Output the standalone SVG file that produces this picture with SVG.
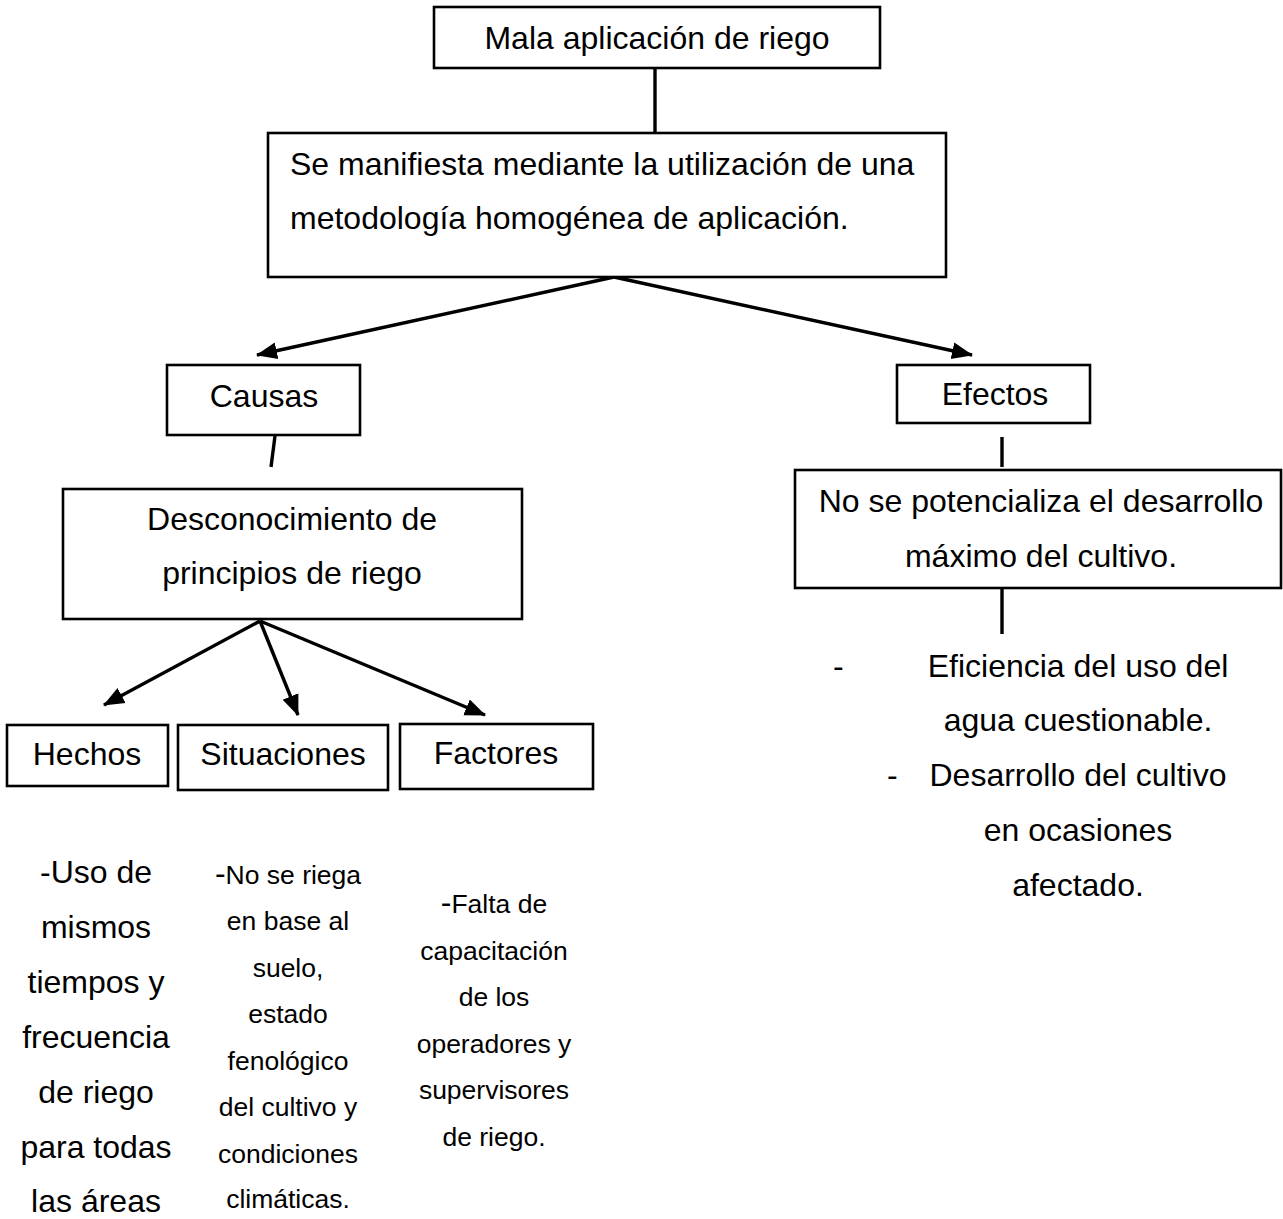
<svg xmlns="http://www.w3.org/2000/svg" width="1283" height="1219" viewBox="0 0 1283 1219">
  <style>
    .box { fill: #ffffff; stroke: #000000; stroke-width: 2.6; }
    .txt { font-family: "Liberation Sans", Arial, sans-serif; font-size: 32px; fill: #000000; }
    .mid { text-anchor: middle; }
    .small { font-size: 26.5px; }
    .dash { font-size: 32px; }
    .wire { fill: none; stroke: #000000; stroke-width: 3.4; }
    .arrow { fill: none; stroke: #000000; stroke-width: 3.4; marker-end: url(#head); }
  </style>
  <defs>
    <marker id="head" markerUnits="userSpaceOnUse" markerWidth="22" markerHeight="20" viewBox="0 0 22 20" refX="20" refY="10" orient="auto">
      <path d="M0,1.5 L21,10 L0,18.5 Z" fill="#000000"/>
    </marker>
  </defs>

  <rect width="1283" height="1219" fill="#ffffff"/>

  <!-- connectors -->
  <g id="connectors">
    <line class="wire" x1="655" y1="68" x2="655" y2="133"/>
    <line class="arrow" x1="614" y1="277" x2="257" y2="355"/>
    <line class="arrow" x1="614" y1="277" x2="972" y2="355"/>
    <line class="wire" x1="275" y1="436" x2="271" y2="467"/>
    <line class="wire" x1="1002" y1="437" x2="1002" y2="467"/>
    <line class="wire" x1="1002" y1="588" x2="1002" y2="634"/>
    <line class="arrow" x1="260" y1="621" x2="104" y2="705"/>
    <line class="arrow" x1="260" y1="621" x2="298" y2="715"/>
    <line class="arrow" x1="260" y1="621" x2="485" y2="715"/>
  </g>

  <g id="problema">
    <rect class="box" x="434" y="7" width="446" height="61"/>
    <text class="txt mid" x="657" y="49">Mala aplicación de riego</text>
  </g>

  <g id="manifestacion">
    <rect class="box" x="268" y="133" width="678" height="144"/>
    <text class="txt" x="290" y="175">Se manifiesta mediante la utilización de una</text>
    <text class="txt" x="290" y="229">metodología homogénea de aplicación.</text>
  </g>

  <g id="causas">
    <rect class="box" x="167" y="365" width="193" height="70"/>
    <text class="txt mid" x="264" y="407">Causas</text>
  </g>

  <g id="efectos">
    <rect class="box" x="897" y="365" width="193" height="58"/>
    <text class="txt mid" x="995" y="405">Efectos</text>
  </g>

  <g id="desconocimiento">
    <rect class="box" x="63" y="489" width="459" height="130"/>
    <text class="txt mid" x="292" y="530">Desconocimiento de</text>
    <text class="txt mid" x="292" y="584">principios de riego</text>
  </g>

  <g id="efecto-cultivo">
    <rect class="box" x="795" y="470" width="486" height="118"/>
    <text class="txt mid" x="1041" y="512">No se potencializa el desarrollo</text>
    <text class="txt mid" x="1041" y="567">máximo del cultivo.</text>
  </g>

  <g id="hechos">
    <rect class="box" x="7" y="725" width="161" height="61"/>
    <text class="txt mid" x="87" y="765">Hechos</text>
  </g>

  <g id="situaciones">
    <rect class="box" x="178" y="725" width="210" height="65"/>
    <text class="txt mid" x="283" y="765">Situaciones</text>
  </g>

  <g id="factores">
    <rect class="box" x="400" y="724" width="193" height="65"/>
    <text class="txt mid" x="496" y="764">Factores</text>
  </g>

  <!-- list under Efectos -->
  <g id="lista-efectos" class="txt">
    <text x="833" y="677">-</text>
    <text class="mid" x="1078" y="677">Eficiencia del uso del</text>
    <text class="mid" x="1078" y="731">agua cuestionable.</text>
    <text x="887" y="786">-</text>
    <text class="mid" x="1078" y="786">Desarrollo del cultivo</text>
    <text class="mid" x="1078" y="841">en ocasiones</text>
    <text class="mid" x="1078" y="896">afectado.</text>
  </g>

  <!-- list under Hechos -->
  <g id="lista-hechos" class="txt mid">
    <text x="96" y="883">-Uso de</text>
    <text x="96" y="938">mismos</text>
    <text x="96" y="993">tiempos y</text>
    <text x="96" y="1048">frecuencia</text>
    <text x="96" y="1103">de riego</text>
    <text x="96" y="1158">para todas</text>
    <text x="96" y="1212">las áreas</text>
  </g>

  <!-- list under Situaciones -->
  <g id="lista-situaciones" class="txt small mid">
    <text x="288" y="884"><tspan class="dash">-</tspan>No se riega</text>
    <text x="288" y="930">en base al</text>
    <text x="288" y="977">suelo,</text>
    <text x="288" y="1023">estado</text>
    <text x="288" y="1070">fenológico</text>
    <text x="288" y="1116">del cultivo y</text>
    <text x="288" y="1163">condiciones</text>
    <text x="288" y="1208">climáticas.</text>
  </g>

  <!-- list under Factores -->
  <g id="lista-factores" class="txt small mid">
    <text x="494" y="913"><tspan class="dash">-</tspan>Falta de</text>
    <text x="494" y="960">capacitación</text>
    <text x="494" y="1006">de los</text>
    <text x="494" y="1053">operadores y</text>
    <text x="494" y="1099">supervisores</text>
    <text x="494" y="1146">de riego.</text>
  </g>
</svg>
